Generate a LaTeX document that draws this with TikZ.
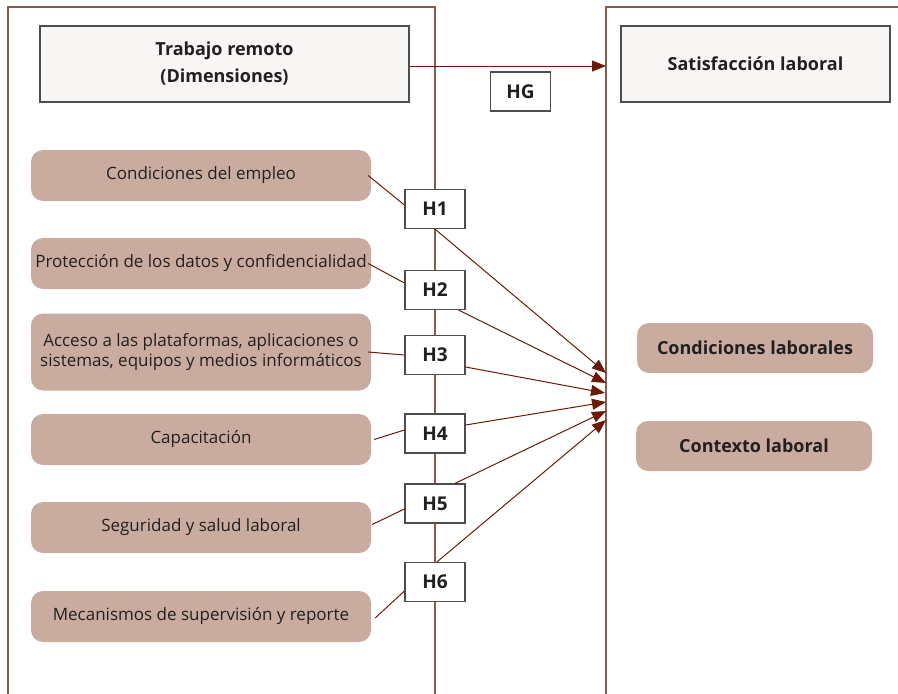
\documentclass[tikz,border=0pt]{standalone}
\usepackage{fontspec}
\setmainfont{Open Sans}
\usepackage{tikz}
\usetikzlibrary{arrows.meta}
\usetikzlibrary{calc}
\definecolor{marco}{HTML}{8C5A4B}
\definecolor{flecha}{HTML}{6A1B08}
\definecolor{caja}{HTML}{C9AC9F}
\definecolor{titulo}{HTML}{F7F6F4}
\definecolor{borde}{HTML}{4D4D4D}
\definecolor{texto}{HTML}{231F20}
\tikzset{
  boxnode/.style = {align=center, inner sep=1pt, text centered,
    text=texto, font=\fontsize{17}{20}\selectfont},
  dim_r/.style = {boxnode, rectangle, rounded corners=12pt, fill=caja,
    minimum width=340pt, minimum height=51pt},% dimension, caja redondeada
  dim_rb/.style = {dim_r, font=\fontsize{18}{21}\selectfont\bfseries,
    minimum width=236pt, minimum height=50pt},% dimension satisfaccion
  dim_t/.style = {boxnode, rectangle, fill=titulo, draw=borde, line width=1.2pt,
    font=\fontsize{18}{27}\selectfont\bfseries, minimum height=76pt},% titulo
  hip_b/.style = {boxnode, rectangle, fill=white, draw=borde, line width=1.2pt,
    font=\fontsize{19}{21}\selectfont\bfseries,
    minimum width=60pt, minimum height=39pt},% hipotesis
  marco_l/.style = {draw=marco, line width=1.3pt},
  flecha_l/.style = {draw=flecha, line width=1pt},
  flecha_a/.style = {flecha_l, -{Triangle[length=14pt,width=11pt,fill=flecha]}}
}

\begin{document}
\begin{tikzpicture}[x=1pt,y=-1pt]
\useasboundingbox (0,0) rectangle (898,694);
% marcos
\draw[marco_l] (8,694) -- (8,7) -- (435,7) -- (435,694);
\draw[marco_l] (606,694) -- (606,7) -- (898,7);

\node [dim_t, minimum width=369pt] (trab) at (224.5,64) {Trabajo remoto\\(Dimensiones)};
\node [dim_t, minimum width=269pt] (sat) at (755.5,64) {Satisfacción laboral};
\node [hip_b] (hg) at (520.5,91.5) {HG};

\node [dim_r] (cond) at (201,175.5) {Condiciones del empleo};
\node [dim_r] (prot) at (201,263.5) {Protección de los datos y confidencialidad};
\node [dim_r, minimum height=77pt] (acc) at (201,352)
  {Acceso a las plataformas, aplicaciones o\\sistemas, equipos y medios informáticos};
\node [dim_r] (cap) at (201,439.5) {Capacitación};
\node [dim_r] (seg) at (201,527.5) {Seguridad y salud laboral};
\node [dim_r] (mec) at (201,616.5) {Mecanismos de supervisión y reporte};

\node [hip_b] (h1) at (435,209) {H1};
\node [hip_b] (h2) at (435,290) {H2};
\node [hip_b] (h3) at (435,355) {H3};
\node [hip_b] (h4) at (435,433.5) {H4};
\node [hip_b] (h5) at (435,503.5) {H5};
\node [hip_b] (h6) at (435,582) {H6};

\node [dim_rb] (clab) at (755,348) {Condiciones laborales};
\node [dim_rb] (ctx) at (754,446) {Contexto laboral};

\coordinate (tg) at (606,66);
\coordinate (t1) at (606,373);
\coordinate (t2) at (606,383);
\coordinate (t3) at (605,393);
\coordinate (t4) at (606,402);
\coordinate (t5) at (606,411);
\coordinate (t6) at (606,420);

\draw[flecha_a] ([yshift=-2pt]trab.east) -- (tg);

\draw[flecha_l] ([xshift=-3pt]cond.east) -- ([yshift=4pt]h1.west);
\draw[flecha_l] ([xshift=-3pt]prot.east) -- ([yshift=7pt]h2.west);
\draw[flecha_l] ([xshift=-3pt]acc.east) -- (h3.west);
\draw[flecha_l] ([xshift=3pt]cap.east) -- ([yshift=3.5pt]h4.west);
\draw[flecha_l] ([xshift=1pt,yshift=3pt]seg.east) -- ([yshift=-5.5pt]h5.west);
\draw[flecha_l] ([xshift=4pt,yshift=-1.5pt]mec.east) -- ([yshift=-9pt]h6.west);

\draw[flecha_a] (h1.south) -- (t1);
\draw[flecha_a] ([xshift=-7pt]h2.south east) -- (t2);
\draw[flecha_a] ([yshift=-12pt]h3.east) -- (t3);
\draw[flecha_a] ([yshift=8.5pt]h4.east) -- (t4);
\draw[flecha_a] ([xshift=20pt]h5.north) -- (t5);
\draw[flecha_a] ([xshift=2pt]h6.north) -- (t6);
\end{tikzpicture}
\end{document}
